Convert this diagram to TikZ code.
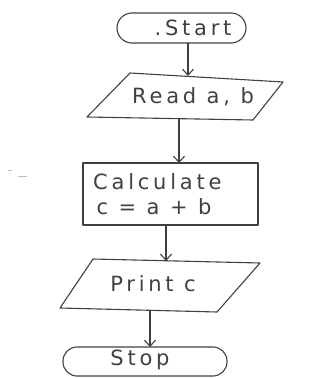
\documentclass[tikz,border=0pt]{standalone}
\usepackage{fontspec}
\setmainfont[LetterSpace=18]{DejaVu Sans}
\usetikzlibrary{arrows.meta}
\definecolor{ink}{gray}{0.25}
\tikzset{
  x=1pt, y=-1pt,
  outline/.style={draw=ink, line width=1.1pt, line join=round},
  label/.style={text=ink, font=\fontsize{21}{24}\selectfont, inner sep=0pt},
  flow/.style={draw=ink, line width=1.1pt, -{Straight Barb[length=6pt,width=11pt,line width=1.1pt]}}
}
\begin{document}
\begin{tikzpicture}
\useasboundingbox (0,0) rectangle (332,378);
% start terminal
\draw[outline, rounded corners=15pt] (117,13) rectangle (246,43);
\node[label] (start) at (193,28) {.Start};
% input parallelogram
\draw[outline] (130,73) -- (283,82) -- (253,120) -- (87,117) -- cycle;
\node[label] (read) at (193,97) {Read a, b};
% process box
\draw[outline] (83,163) rectangle (258,225);
\node[label, align=left, anchor=west] (calc) at (93,194) {Calculate\\[1pt]\,c = a + b};
% output parallelogram
\draw[outline] (93,259) -- (260,263) -- (217,312) -- (60,308) -- cycle;
\node[label] (print) at (153,284) {Print c};
% stop terminal
\draw[outline, rounded corners=14pt] (63,347) rectangle (227,376);
\node[label] (stop) at (140,360) {Stop};
% connector end points on the shape edges
\coordinate (startB) at (188,43);
\coordinate (readT) at (188,76);
\coordinate (readB) at (179,119);
\coordinate (calcT) at (179,163);
\coordinate (calcB) at (166,225);
\coordinate (printT) at (166,261);
\coordinate (printB) at (150,311);
\coordinate (stopT) at (150,347);
\draw[flow] (startB) -- (readT);
\draw[flow] (readB) -- (calcT);
\draw[flow] (calcB) -- (printT);
\draw[flow] (printB) -- (stopT);
% faint pencil marks
\draw[ink!35, line width=1pt] (8,170) -- (12,170) (18,176) -- (27,176);
\end{tikzpicture}
\end{document}
